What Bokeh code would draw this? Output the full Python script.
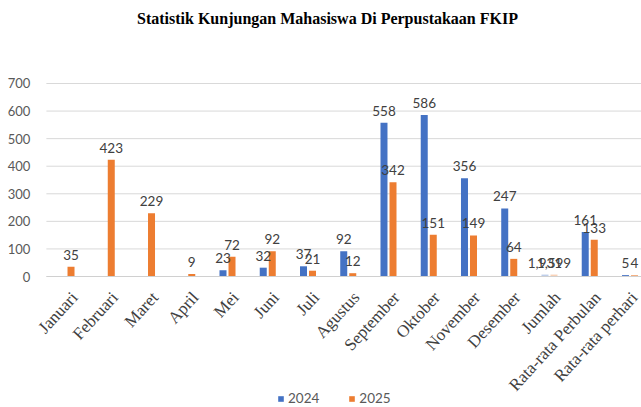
import math
from bokeh.plotting import figure
from bokeh.models import ColumnDataSource, Range1d, FixedTicker, Legend, LegendItem, Label
from bokeh.transform import dodge
from bokeh.core.properties import value
from bokeh.embed import file_html
from bokeh.resources import INLINE

title_text = "Statistik Kunjungan Mahasiswa Di Perpustakaan FKIP"
categories = ["Januari", "Februari", "Maret", "April", "Mei", "Juni", "Juli",
              "Agustus", "September", "Oktober", "November", "Desember",
              "Jumlah", "Rata-rata Perbulan", "Rata-rata perhari"]
series_names = ["2024", "2025"]
# bar heights as drawn in the picture (Jumlah bars are drawn near zero)
values_2024 = [float("nan")] * 4 + [23, 32, 37, 92, 558, 586, 356, 247, 7, 161, 5]
values_2025 = [35, 423, 229, 9, 72, 92, 21, 12, 342, 151, 149, 64, 7, 133, 4]
labels_2024 = ["", "", "", "", "23", "32", "37", "92", "558", "586", "356", "247",
               "1,931", "161", "5"]
labels_2025 = ["35", "423", "229", "9", "72", "92", "21", "12", "342", "151", "149",
               "64", "1,599", "133", "4"]
y_ticks = [0, 100, 200, 300, 400, 500, 600, 700]

BLUE = "#4472C4"
ORANGE = "#ED7D31"

n = len(categories)
alpha = [0.35 if c == "Jumlah" else 1.0 for c in categories]
src = ColumnDataSource(dict(
    idx=list(range(n)),
    v24=values_2024, v25=values_2025,
    l24=labels_2024, l25=labels_2025, a=alpha,
))

# the frame spans the whole canvas; value axis 0..700 occupies 83..276 px
p = figure(width=641, height=407, output_backend="svg", toolbar_location=None,
           x_range=Range1d(-1.64, 14.286), y_range=Range1d(-475.1, 1001),
           min_border_left=0, min_border_right=0, min_border_top=0,
           min_border_bottom=0)
p.outline_line_color = None
p.background_fill_color = "white"

title = Label(x=327, y=389, x_units="screen", y_units="screen", text=title_text,
              text_align="center", text_baseline="middle",
              text_font="Liberation Serif", text_font_size="16px",
              text_font_style="bold", text_color="#000000")
p.add_layout(title)

# horizontal gridlines across the category area
p.xgrid.grid_line_color = None
p.ygrid.grid_line_color = None
p.segment(x0=[-0.5] * len(y_ticks), x1=[n - 0.5] * len(y_ticks),
          y0=y_ticks, y1=y_ticks, line_color="#D9D9D9", line_width=1)

off = 0.112
bw = 0.174
r24 = p.vbar(x=dodge("idx", -off), top="v24", width=bw, source=src,
             fill_color=BLUE, line_color=None, fill_alpha="a")
r25 = p.vbar(x=dodge("idx", off), top="v25", width=bw, source=src,
             fill_color=ORANGE, line_color=None, fill_alpha="a")

for col, lab, sign in (("v24", "l24", -1), ("v25", "l25", 1)):
    p.text(x=dodge("idx", sign * off), y=col, text=lab, source=src,
           text_align="center", text_baseline="alphabetic", y_offset=-12,
           text_font=value("Lato"), text_font_size="13.5px", text_color="#404040")

p.yaxis.fixed_location = -0.5
p.yaxis.ticker = FixedTicker(ticks=y_ticks)
p.yaxis.axis_line_color = None
p.yaxis.major_tick_line_color = None
p.yaxis.minor_tick_line_color = None
p.yaxis.major_label_standoff = 10
p.yaxis.major_label_text_font = "Lato"
p.yaxis.major_label_text_font_size = "13px"
p.yaxis.major_label_text_color = "#595959"

shift = 0.2
tick_pos = [i + shift for i in range(n)]
p.xaxis.fixed_location = 0
p.xaxis.bounds = (-0.5, n - 0.5)
p.xaxis.ticker = FixedTicker(ticks=tick_pos)
p.xaxis.major_label_overrides = {t: c for t, c in zip(tick_pos, categories)}
p.xaxis.major_label_orientation = 0.83
p.xaxis.axis_line_color = "#D0D0D0"
p.xaxis.major_tick_line_color = None
p.xaxis.minor_tick_line_color = None
p.xaxis.major_label_standoff = 12
p.xaxis.major_label_text_font = "Liberation Serif"
p.xaxis.major_label_text_font_size = "17px"
p.xaxis.major_label_text_color = "#404040"

legend = Legend(items=[LegendItem(label=series_names[0], renderers=[r24]),
                       LegendItem(label=series_names[1], renderers=[r25])],
                orientation="horizontal", location=(277, 1),
                padding=0, margin=0, spacing=29,
                glyph_width=7, glyph_height=7, label_standoff=4,
                label_text_font="Lato", label_text_font_size="13.5px",
                label_text_color="#595959",
                border_line_color=None, background_fill_alpha=0)
p.add_layout(legend, "center")

open("out.html", "w").write(file_html(p, INLINE))
